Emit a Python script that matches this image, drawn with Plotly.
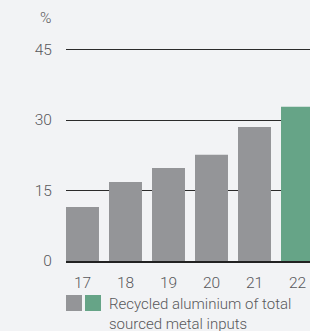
import plotly.graph_objects as go

years = [17, 18, 19, 20, 21, 22]
year_labels = ["17", "18", "19", "20", "21", "22"]
values = [11.5, 16.8, 19.8, 22.6, 28.5, 32.8]
bar_colors = ["#949598", "#949598", "#949598", "#949598", "#949598", "#66a487"]
y_ticks = [0, 15, 30, 45]

BG = "#f2f3f5"
TXT = "#58585b"
FONT = "Roboto"
WT = 300

fig = go.Figure()
fig.add_trace(go.Bar(
    x=years, y=values, marker=dict(color=bar_colors, line=dict(width=0)),
    width=0.767, showlegend=False, hoverinfo="skip",
))

W, H = 310, 331
L, R, T, B = 66, 0, 44, 70
pw = W - L - R
ph = H - T - B

fig.update_layout(
    width=W, height=H,
    margin=dict(l=L, r=R, t=T, b=B, pad=0),
    paper_bgcolor=BG, plot_bgcolor=BG,
    font=dict(family=FONT, size=15, color=TXT, weight=WT),
    xaxis=dict(
        range=[17 - 16.5 / 43, 17 - 16.5 / 43 + pw / 43],
        tickmode="array", tickvals=years, ticktext=year_labels,
        showgrid=False, zeroline=False,
        showline=True, linecolor="#222222", linewidth=2, layer="above traces",
        ticks="outside", ticklen=6, tickcolor=BG,
        tickfont=dict(size=15.5, color=TXT, family=FONT, weight=WT),
    ),
    yaxis=dict(
        range=[0, ph / 4.7],
        tickmode="array", tickvals=y_ticks,
        showgrid=True, gridcolor="#2b2b2b", gridwidth=1,
        zeroline=False, showline=False,
        ticks="outside", ticklen=10, tickcolor=BG,
        tickfont=dict(size=15.5, color=TXT, family=FONT, weight=WT),
    ),
    bargap=0.233,
)

def px_x(x):
    return (x - L) / pw

def px_y(y):
    return (H - B - y) / ph

fig.add_annotation(text="%", xref="paper", yref="paper", x=px_x(53), y=px_y(18),
                   xanchor="right", yanchor="middle", showarrow=False,
                   font=dict(size=15.5, color=TXT, family=FONT, weight=WT))

for x0, col in [(66, "#949598"), (85, "#66a487")]:
    fig.add_shape(type="rect", xref="paper", yref="paper",
                  x0=px_x(x0), x1=px_x(x0 + 16), y0=px_y(295), y1=px_y(311),
                  fillcolor=col, line=dict(width=0))

fig.add_annotation(text="Recycled aluminium of total<br>sourced metal inputs",
                   xref="paper", yref="paper", x=px_x(107), y=px_y(293),
                   xanchor="left", yanchor="top", align="left", showarrow=False,
                   font=dict(size=15, color=TXT, family=FONT, weight=WT))

fig.write_html(
    "out.html",
    config={"displayModeBar": False},
    post_script="document.body.style.margin='0';document.body.style.overflow='hidden';"
                "document.documentElement.style.overflow='hidden';",
)
